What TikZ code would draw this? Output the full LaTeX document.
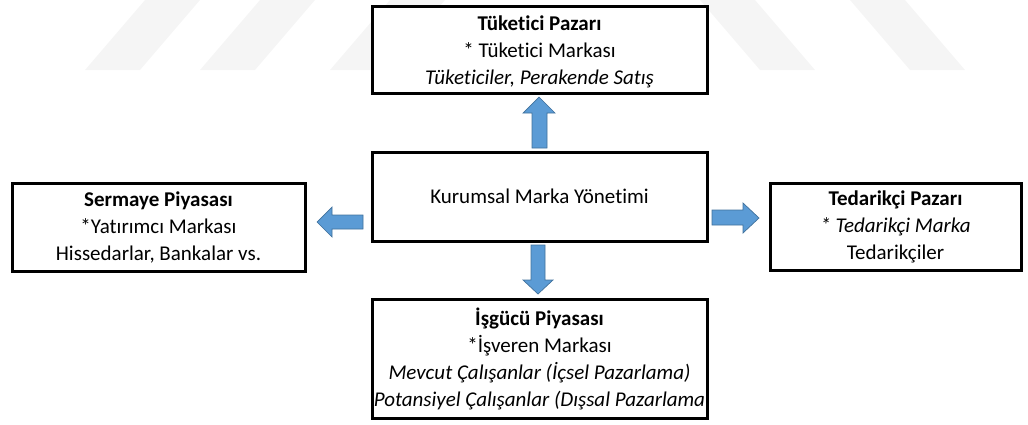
\documentclass[tikz,border=0pt]{standalone}
\usepackage{fontspec}
\setmainfont{Carlito}[Ligatures=NoCommon]
\begin{document}
\begin{tikzpicture}[x=1pt,y=-1pt,
  box/.style={draw=black, line width=3pt, fill=white, align=center,
    inner sep=0pt, font=\fontsize{21}{27}\selectfont},
  blockarrow/.style={fill=arrowfill, draw=arrowline, line width=0.7pt, line join=miter},
  faint/.style={fill=black!4, draw=none}]
\definecolor{arrowfill}{HTML}{5B9BD5}
\definecolor{arrowline}{HTML}{41719C}
\useasboundingbox (0,0) rectangle (1028,424);

% faint background stripes
\fill[faint] (85,70) -- (140,70) -- (200,0) -- (145,0) -- cycle;
\fill[faint] (200,70) -- (255,70) -- (315,0) -- (260,0) -- cycle;
\fill[faint] (330,70) -- (385,70) -- (445,0) -- (390,0) -- cycle;
\fill[faint] (700,0) -- (755,0) -- (815,70) -- (760,70) -- cycle;
\fill[faint] (850,0) -- (905,0) -- (965,70) -- (910,70) -- cycle;

% boxes
\node[box, minimum width=335pt, minimum height=87pt] (consumer) at (539.5,49.5) {};
\node[align=center, inner sep=0pt, font=\fontsize{21}{27}\selectfont] (consumertext)
  at (539.5,51.5)
  {\textbf{Tüketici Pazarı}\\* Tüketici Markası\\\textit{Tüketiciler, Perakende Satış}};
\node[box, minimum width=335pt, minimum height=89pt] (corp) at (539.5,196.5)
  {Kurumsal Marka Yönetimi};
\node[box, minimum width=293pt, minimum height=88pt] (capital) at (158.5,227)
  {\textbf{Sermaye Piyasası}\\*Yatırımcı Markası\\Hissedarlar, Bankalar vs.};
\node[box, minimum width=251pt, minimum height=87pt] (supplier) at (895.5,226.5)
  {\textbf{Tedarikçi Pazarı}\\\textit{* Tedarikçi Marka}\\Tedarikçiler};
\node[box, minimum width=335pt, minimum height=119pt] (labour) at (539.5,358.5)
  {\textbf{İşgücü Piyasası}\\*İşveren Markası\\\textit{Mevcut Çalışanlar (İçsel Pazarlama)}\\\textit{Potansiyel Çalışanlar (Dışsal Pazarlama}};

% block arrows from the central box outwards
\draw[blockarrow] (532,148) -- (532,113) -- (523,113) -- (539,97) -- (555,113)
  -- (547,113) -- (547,148) -- cycle;
\draw[blockarrow] (531,245) -- (545,245) -- (545,280) -- (553,280) -- (538,294)
  -- (523,280) -- (531,280) -- cycle;
\draw[blockarrow] (712,210) -- (743,210) -- (743,203) -- (759,218) -- (743,233)
  -- (743,225) -- (712,225) -- cycle;
\draw[blockarrow] (363,215) -- (332,215) -- (332,207) -- (317,222) -- (332,237)
  -- (332,229) -- (363,229) -- cycle;
\end{tikzpicture}
\end{document}
